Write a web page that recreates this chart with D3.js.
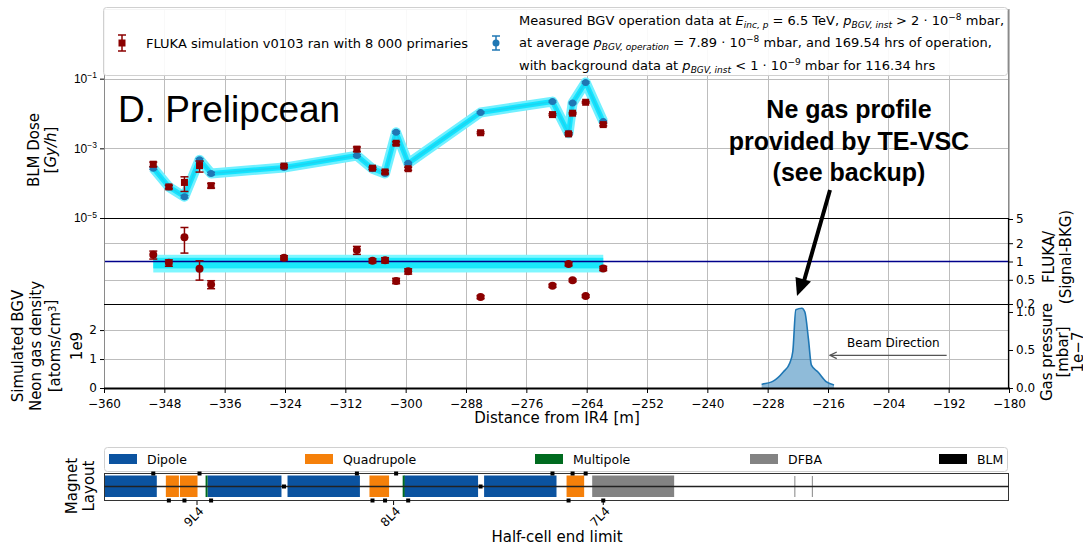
<!doctype html>
<html lang="en">
<head>
<meta charset="utf-8">
<title></title>
<script src="https://d3js.org/d3.v7.min.js"></script>
<style>
body { margin:0; background:#fff; }
</style>
</head>
<body>
<script>

// BLM positions along the line [m]
var posM     = [-350.2, -347.1, -344.0, -341.0, -338.7, -324.2, -309.7, -306.6, -304.1, -301.9, -299.5, -285.1, -270.8, -267.6, -266.8, -264.2, -260.7];
// measured dose (signal - bkg) [Gy/h]
var measured = [2.7e-4, 7.8e-5, 4.1e-5, 4.7e-4, 1.9e-4, 2.8e-4, 6.2e-4, 2.6e-4, 1.9e-4, 2.9e-3, 3.7e-4, 1.07e-2, 2.2e-2, 2.7e-3, 2.0e-2, 7.8e-2, 5.9e-3];
var measErr  = [0.08, 0.08, 0.08, 0.08, 0.08, 0.06, 0.06, 0.06, 0.06, 0.06, 0.06, 0.05, 0.05, 0.05, 0.05, 0.05, 0.05];
// FLUKA dose [Gy/h]
var fluka    = [3.5e-4, 7.8e-5, 1.05e-4, 3.2e-4, 8.5e-5, 3.1e-4, 9.5e-4, 2.7e-4, 2.1e-4, 1.4e-3, 2.6e-4, 2.8e-3, 9.3e-3, 2.6e-3, 1.02e-2, 2.1e-2, 4.8e-3];
var flukaErr = [0.15, 0.12, 0.45, 0.35, 0.15, 0.08, 0.15, 0.08, 0.1, 0.1, 0.1, 0.06, 0.06, 0.07, 0.05, 0.05, 0.08];
// FLUKA / (Signal-BKG)
var ratio    = [1.29, 0.95, 2.5, 0.76, 0.42, 1.15, 1.54, 1.03, 1.05, 0.48, 0.69, 0.26, 0.40, 0.91, 0.49, 0.27, 0.77];
var ratioBandOuter = [0.66, 1.29];
var ratioBandInner = [0.77, 1.15];

// Ne gas profile, pressure in 1e-7 mbar
var gasPos = [-229.2, -226.9, -224.9, -223.6, -223.0, -222.4, -221.2, -220.6, -219.9, -219.3, -218.0, -216.3, -214.8];
var gasP   = [0.05, 0.09, 0.21, 0.33, 0.48, 1.03, 1.05, 1.00, 0.65, 0.30, 0.21, 0.08, 0.04];

var xTicks = d3.range(-360, -179, 12);

// magnet layout
var magType  = ["Dipole","Quadrupole","Quadrupole","Dipole","Dipole","Quadrupole","Dipole","Dipole","Quadrupole","DFBA"];
var magStart = [-360, -347.7, -344.9, -339.4, -323.5, -307.2, -300.3, -284.4, -268.0, -262.9];
var magEnd   = [-349.5, -345.1, -341.4, -324.7, -309.1, -303.3, -285.6, -270.0, -264.5, -246.6];
var multipolePos = [-339.6, -300.4];
var markerLinePos = [-222.6, -219.1];
var blmSide = ["top","bottom","bottom","top","bottom","mid","top","bottom","bottom","top","bottom","mid","top","bottom","top","top","bottom"];
var cellPos = [-341.6, -302.5, -260.8];
var cellLabels = ["9L4","8L4","7L4"];
var layoutNames  = ["Dipole","Quadrupole","Multipole","DFBA","BLM"];
var layoutColors = ["#0b53a0","#f5800a","#006b1f","#838383","#000000"];

var red = "#8b0000", blue = "#1f77b4";

var x = d3.scaleLinear().domain([-360,-180]).range([104,1009]);
var yDose  = d3.scaleLog().domain([1e-5, 10]).range([218, 9]);
var yRatio = d3.scaleLog().domain([0.2, 5]).range([304, 219]);
var yDens  = d3.scaleLinear().domain([0, 2.9e9]).range([388, 304]);
var yPres  = d3.scaleLinear().domain([0, 1.105]).range([388, 304]);
var layColor = d3.scaleOrdinal().domain(layoutNames).range(layoutColors);

var svg = d3.select("body").append("svg")
    .attr("width",1083).attr("height",545)
    .attr("font-family","DejaVu Sans, sans-serif")
    .style("background","#fff");

function px(v){ return Math.round(v)+0.5; }

// grid
var grid = svg.append("g").attr("stroke","#bdbdbd").attr("stroke-width",1);
grid.selectAll(".vg").data(xTicks).enter().append("line")
    .attr("x1",d=>px(x(d))).attr("x2",d=>px(x(d))).attr("y1",9).attr("y2",388);
var hLines = [[yDose,1e-1],[yDose,1e-3],[yRatio,2],[yRatio,0.5],[yDens,1e9],[yDens,2e9]];
grid.selectAll(".hg").data(hLines).enter().append("line")
    .attr("x1",104).attr("x2",1009)
    .attr("y1",d=>px(d[0](d[1]))).attr("y2",d=>px(d[0](d[1])));

// ---- top panel: dose
var doseLine = d3.line().x((d,i)=>x(posM[i])).y(d=>yDose(d));
svg.append("path").attr("d",doseLine(measured))
    .attr("fill","none").attr("stroke","#72f0ff").attr("stroke-width",10).attr("stroke-linejoin","round");
svg.append("path").attr("d",doseLine(measured))
    .attr("fill","none").attr("stroke","#14e4ff").attr("stroke-width",5).attr("stroke-linejoin","round");
svg.append("path").attr("d",doseLine(measured))
    .attr("fill","none").attr("stroke","#1fd3f0").attr("stroke-width",1.5);

function errBars(g, xs, vals, errs, yS, color, capW){
    var eb = g.selectAll(null).data(vals).enter().append("g")
        .attr("stroke",color).attr("stroke-width",1.5);
    eb.append("line").attr("x1",(d,i)=>x(xs[i])).attr("x2",(d,i)=>x(xs[i]))
        .attr("y1",(d,i)=>yS(d*(1+errs[i]))).attr("y2",(d,i)=>yS(d*(1-errs[i])));
    eb.append("line").attr("x1",(d,i)=>x(xs[i])-capW).attr("x2",(d,i)=>x(xs[i])+capW)
        .attr("y1",(d,i)=>yS(d*(1+errs[i]))).attr("y2",(d,i)=>yS(d*(1+errs[i])));
    eb.append("line").attr("x1",(d,i)=>x(xs[i])-capW).attr("x2",(d,i)=>x(xs[i])+capW)
        .attr("y1",(d,i)=>yS(d*(1-errs[i]))).attr("y2",(d,i)=>yS(d*(1-errs[i])));
}

var topG = svg.append("g");
errBars(topG, posM, measured, measErr, yDose, blue, 4);
topG.selectAll(".bm").data(measured).enter().append("circle")
    .attr("cx",(d,i)=>x(posM[i])).attr("cy",d=>yDose(d)).attr("r",3.5).attr("fill",blue);
errBars(topG, posM, fluka, flukaErr, yDose, red, 4);
topG.selectAll(".rm").data(fluka).enter().append("rect")
    .attr("x",(d,i)=>x(posM[i])-3.5).attr("y",d=>yDose(d)-3.5)
    .attr("width",7).attr("height",7).attr("fill",red);

// ---- middle panel: ratio
svg.append("rect").attr("x",x(posM[0])).attr("width",x(posM[posM.length-1])-x(posM[0]))
    .attr("y",yRatio(ratioBandOuter[1])).attr("height",yRatio(ratioBandOuter[0])-yRatio(ratioBandOuter[1]))
    .attr("fill","#7ff7ff");
svg.append("rect").attr("x",x(posM[0])).attr("width",x(posM[posM.length-1])-x(posM[0]))
    .attr("y",yRatio(ratioBandInner[1])).attr("height",yRatio(ratioBandInner[0])-yRatio(ratioBandInner[1]))
    .attr("fill","#1ae8fa");
svg.append("line").attr("x1",104).attr("x2",1009).attr("y1",yRatio(1)).attr("y2",yRatio(1))
    .attr("stroke","#00008b").attr("stroke-width",1.3);
var midG = svg.append("g");
errBars(midG, posM, ratio, flukaErr, yRatio, red, 4);
midG.selectAll(".rc").data(ratio).enter().append("circle")
    .attr("cx",(d,i)=>x(posM[i])).attr("cy",d=>yRatio(d)).attr("r",4).attr("fill",red);

// ---- bottom panel: gas profile
var gasArea = d3.area().x((d,i)=>x(gasPos[i])).y0(yPres(0)).y1(d=>yPres(d)).curve(d3.curveMonotoneX);
var gasLine = d3.line().x((d,i)=>x(gasPos[i])).y(d=>yPres(d)).curve(d3.curveMonotoneX);
svg.append("path").attr("d",gasArea(gasP)).attr("fill",blue).attr("fill-opacity",0.5);
svg.append("path").attr("d",gasLine(gasP)).attr("fill","none").attr("stroke",blue).attr("stroke-width",1.6);

// beam direction arrow
svg.append("defs").append("marker").attr("id","beamHead")
    .attr("viewBox","0 0 10 10").attr("refX",9).attr("refY",5)
    .attr("markerWidth",7).attr("markerHeight",7).attr("orient","auto")
    .append("path").attr("d","M1,1 L9,5 L1,9").attr("fill","none").attr("stroke","#555").attr("stroke-width",1.5);
svg.append("line").attr("x1",x(-192.4)).attr("x2",x(-215.6)).attr("y1",yPres(0.43)).attr("y2",yPres(0.43))
    .attr("stroke","#555").attr("stroke-width",1.2).attr("marker-end","url(#beamHead)");
svg.append("text").attr("x",x(-203)).attr("y",yPres(0.54)).attr("text-anchor","middle")
    .attr("font-size","12px").text("Beam Direction");

// ---- frames
svg.append("path").attr("d","M104.5,388 V9.5 H1008.5 V218").attr("fill","none").attr("stroke","#8a8a8a").attr("stroke-width",1);
svg.append("line").attr("x1",104).attr("x2",1009).attr("y1",218.5).attr("y2",218.5).attr("stroke","#000").attr("stroke-width",1.2);
svg.append("line").attr("x1",104).attr("x2",1009).attr("y1",304.5).attr("y2",304.5).attr("stroke","#000").attr("stroke-width",1.2);
svg.append("line").attr("x1",1008.5).attr("x2",1008.5).attr("y1",218).attr("y2",389).attr("stroke","#000").attr("stroke-width",1.2);
svg.append("line").attr("x1",104).attr("x2",1010).attr("y1",388.5).attr("y2",388.5).attr("stroke","#000").attr("stroke-width",2);

// ---- axes
function styleAxis(g){
    g.select(".domain").remove();
    g.selectAll("text").attr("font-size","12px").attr("font-family","DejaVu Sans").attr("fill","#000");
}
svg.append("g").attr("transform","translate(0,389)")
    .call(d3.axisBottom(x).tickValues(xTicks).tickSize(4).tickPadding(6))
    .call(styleAxis);

svg.append("g").attr("transform","translate(104,0)")
    .call(d3.axisLeft(yDose).tickValues([1e-1,1e-3,1e-5]).tickSize(4).tickFormat(""))
    .call(styleAxis)
    .selectAll(".tick").append("text").attr("x",-7).attr("dy","0.32em").attr("text-anchor","end")
    .attr("font-size","12px").attr("fill","#000")
    .each(function(d){
        var t = d3.select(this);
        t.append("tspan").text("10");
        t.append("tspan").attr("dy","-0.55em").attr("font-size","8.5px").text("\u2212" + Math.round(-Math.log10(d)));
    });

svg.append("g").attr("transform","translate(104,0)")
    .call(d3.axisLeft(yDens).tickValues([0,1e9,2e9]).tickSize(4).tickFormat(d=>d/1e9))
    .call(styleAxis);
svg.append("g").attr("transform","translate(1009,0)")
    .call(d3.axisRight(yRatio).tickValues([5,2,1,0.5,0.2]).tickSize(4).tickFormat(d=>String(d)))
    .call(styleAxis);
svg.append("g").attr("transform","translate(1009,0)")
    .call(d3.axisRight(yPres).tickValues([0,0.5,1.0]).tickSize(4).tickFormat(d3.format(".1f")))
    .call(styleAxis);

// axis labels
function vLabel(cx, cy, lines, size){
    lines.forEach(function(l){
        var t = svg.append("text").attr("transform","translate("+l[0]+","+cy+") rotate(-90)")
            .attr("text-anchor","middle").attr("dy","0.35em").attr("font-size",size);
        l[1].forEach(function(p){
            var s = t.append("tspan").text(p[0]);
            if (p[1]==="i") s.attr("font-style","italic");
            if (p[1]==="sup") s.attr("font-size","10px").attr("dy","-0.45em");
        });
    });
}
vLabel(0, 150, [[34,[["BLM Dose",""]]],[51,[["[",""],["Gy/h","i"],["]",""]]]], "15px");
vLabel(0, 346, [[18,[["Simulated BGV",""]]],[36,[["Neon gas density",""]]],[55,[["[atoms/cm",""],["3","sup"],["]",""]]],[77,[["1e9",""]]]], "15px");
vLabel(0, 257, [[1049,[["FLUKA/",""]]],[1066,[["(Signal-BKG)",""]]]], "15px");
vLabel(0, 352, [[1047,[["Gas pressure",""]]],[1063,[["[mbar]",""]]],[1078,[["1e\u22127",""]]]], "15px");

svg.append("text").attr("x",557).attr("y",423).attr("text-anchor","middle").attr("font-size","15px")
    .text("Distance from IR4 [m]");

// ---- top legend
var leg = svg.append("g");
leg.append("rect").attr("x",103.5).attr("y",7.5).attr("width",904).attr("height",68).attr("rx",3)
    .attr("fill","#fff").attr("fill-opacity",0.9).attr("stroke","#d0d0d0");
var lr = leg.append("g").attr("stroke",red).attr("stroke-width",1.5);
lr.append("line").attr("x1",122).attr("x2",122).attr("y1",35).attr("y2",51);
lr.append("line").attr("x1",118).attr("x2",126).attr("y1",35).attr("y2",35);
lr.append("line").attr("x1",118).attr("x2",126).attr("y1",51).attr("y2",51);
leg.append("rect").attr("x",118.5).attr("y",39.5).attr("width",7).attr("height",7).attr("fill",red);
leg.append("text").attr("x",146).attr("y",47.5).attr("font-size","13px")
    .text("FLUKA simulation v0103 ran with 8 000 primaries");
var lb = leg.append("g").attr("stroke",blue).attr("stroke-width",1.5);
lb.append("line").attr("x1",496).attr("x2",496).attr("y1",36).attr("y2",50);
lb.append("line").attr("x1",492).attr("x2",500).attr("y1",36).attr("y2",36);
lb.append("line").attr("x1",492).attr("x2",500).attr("y1",50).attr("y2",50);
leg.append("circle").attr("cx",496).attr("cy",43).attr("r",3.5).attr("fill",blue);

var legLines = [
  [["Measured BGV operation data at ",""],["E","i"],["inc, p","sub"],[" = 6.5 TeV, ",""],["p","i"],["BGV, inst","sub"],[" > 2 \u00b7 10",""],["\u22128","sup"],[" mbar,",""]],
  [["at average ",""],["p","i"],["BGV, operation","sub"],[" = 7.89 \u00b7 10",""],["\u22128","sup"],[" mbar, and 169.54 hrs of operation,",""]],
  [["with background data at ",""],["p","i"],["BGV, inst","sub"],[" < 1 \u00b7 10",""],["\u22129","sup"],[" mbar for 116.34 hrs",""]]
];
legLines.forEach(function(parts, k){
    var t = leg.append("text").attr("x",519).attr("y",25 + k*22.3).attr("font-size","13px");
    var shift = 0;
    parts.forEach(function(p){
        var s = t.append("tspan").text(p[0]);
        var want = 0;
        if (p[1]==="i") s.attr("font-style","italic");
        if (p[1]==="sub") { s.attr("font-style","italic").attr("font-size","9px"); want = 3; }
        if (p[1]==="sup") { s.attr("font-size","9px"); want = -5; }
        s.attr("dy", want - shift);
        shift = want;
    });
});

// ---- annotations
svg.append("text").attr("x",118).attr("y",122).attr("font-family","Liberation Sans, Arial, sans-serif")
    .attr("font-size","37px").text("D. Prelipcean");
var ann = svg.append("text").attr("font-family","Liberation Sans, Arial, sans-serif")
    .attr("font-weight","bold").attr("font-size","25px").attr("text-anchor","middle");
["Ne gas profile","provided by TE-VSC","(see backup)"].forEach(function(s,k){
    ann.append("tspan").attr("x",849).attr("y",118 + k*31.5).text(s);
});
svg.append("line").attr("x1",830).attr("y1",190).attr("x2",804).attr("y2",281)
    .attr("stroke","#000").attr("stroke-width",4);
svg.append("path").attr("d","M797,296 L795.5,277 L811,281.5 Z").attr("fill","#000");

// ---- magnet layout
var lay = svg.append("g");
lay.append("rect").attr("x",104.5).attr("y",447.5).attr("width",903).attr("height",24).attr("rx",3)
    .attr("fill","#fff").attr("stroke","#d0d0d0");
var layLegX = [109, 305, 535, 750, 939];
lay.selectAll(".ls").data(layoutNames).enter().append("rect")
    .attr("x",(d,i)=>layLegX[i]).attr("y",454).attr("width",28).attr("height",10).attr("fill",d=>layColor(d));
lay.selectAll(".lt").data(layoutNames).enter().append("text")
    .attr("x",(d,i)=>layLegX[i]+38).attr("y",464).attr("font-size","12.5px").text(d=>d);

lay.selectAll(".mag").data(magType).enter().append("rect")
    .attr("x",(d,i)=>x(magStart[i])).attr("width",(d,i)=>x(magEnd[i])-x(magStart[i]))
    .attr("y",475.5).attr("height",21.5).attr("fill",d=>layColor(d));
lay.selectAll(".mp").data(multipolePos).enter().append("line")
    .attr("x1",d=>x(d)).attr("x2",d=>x(d)).attr("y1",475.5).attr("y2",497)
    .attr("stroke",layColor("Multipole")).attr("stroke-width",2);
lay.selectAll(".ml").data(markerLinePos).enter().append("line")
    .attr("x1",d=>x(d)).attr("x2",d=>x(d)).attr("y1",476).attr("y2",497)
    .attr("stroke","#999").attr("stroke-width",1.2);
lay.append("rect").attr("x",104.5).attr("y",473.5).attr("width",904).attr("height",27)
    .attr("fill","none").attr("stroke","#333").attr("stroke-width",1);
lay.append("line").attr("x1",104).attr("x2",1009).attr("y1",486.5).attr("y2",486.5)
    .attr("stroke","#222").attr("stroke-width",1.3);
var sideY = {top:473.5, mid:486.5, bottom:500.5};
lay.selectAll(".blm").data(posM).enter().append("rect")
    .attr("x",d=>x(d)-2).attr("y",(d,i)=>sideY[blmSide[i]]-2)
    .attr("width",4).attr("height",4).attr("fill","#000");

svg.append("g").attr("transform","translate(0,501)")
    .call(d3.axisBottom(x).tickValues(cellPos).tickSize(4).tickFormat((d,i)=>cellLabels[i]))
    .call(styleAxis)
    .selectAll("text").attr("text-anchor","end").attr("dx","-0.2em").attr("dy","0.5em")
    .attr("transform","rotate(-45)");

svg.append("text").attr("x",557).attr("y",542).attr("text-anchor","middle").attr("font-size","15px")
    .text("Half-cell end limit");
vLabel(0, 486, [[72,[["Magnet",""]]],[89,[["Layout",""]]]], "15px");

</script>
</body>
</html>
